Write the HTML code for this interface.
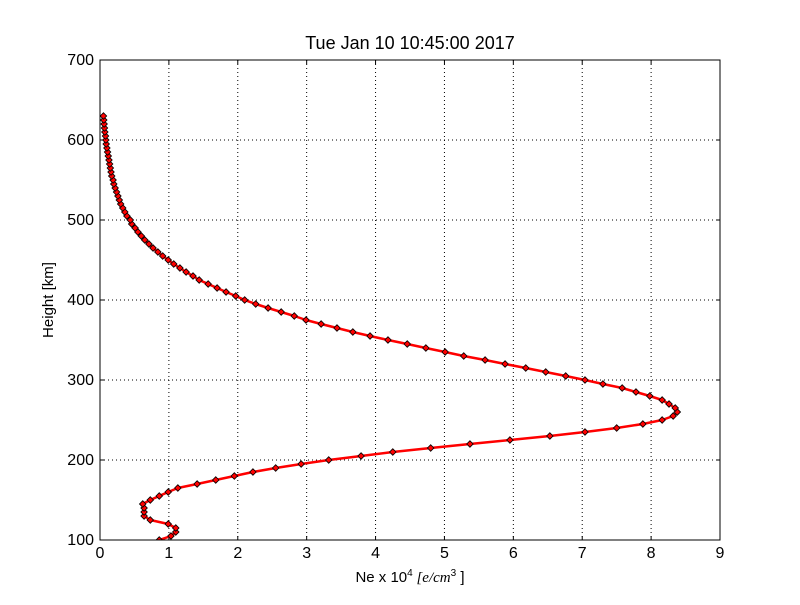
<!DOCTYPE html>
<html><head><meta charset="utf-8"><style>
body{margin:0;background:#fff;width:800px;height:600px;overflow:hidden}
svg{font-family:"Liberation Sans","DejaVu Sans",sans-serif}
</style></head><body>
<svg id="chart" width="800" height="600" viewBox="0 0 800 600">
<rect width="800" height="600" fill="#fff"/>
<text x="410" y="49" text-anchor="middle" font-size="18">Tue Jan 10 10:45:00 2017</text>
<g id="grid"></g>
<g id="ticks"></g>
<defs><clipPath id="clip"><rect x="100" y="60" width="620" height="480"/></clipPath></defs>
<g id="series" clip-path="url(#clip)"></g>
<rect x="100" y="60" width="620" height="480" fill="none" stroke="#000" stroke-width="1"/>
<text x="410" y="582" text-anchor="middle" font-size="15">Ne x 10<tspan font-size="10" dy="-6">4</tspan><tspan dy="6" font-style="italic" font-family="Liberation Serif,serif">  [e/cm</tspan><tspan font-size="10" dy="-6">3</tspan><tspan dy="6"> ]</tspan></text>
<text x="53" y="300" text-anchor="middle" font-size="15" transform="rotate(-90 53 300)">Height [km]</text>
</svg>
<script>
const heights = [95,100,105,110,115,120,125,130,135,140,145,150,155,160,165,170,175,180,185,190,195,200,205,210,215,220,225,230,235,240,245,250,255,260,265,270,275,280,285,290,295,300,305,310,315,320,325,330,335,340,345,350,355,360,365,370,375,380,385,390,395,400,405,410,415,420,425,430,435,440,445,450,455,460,465,470,475,480,485,490,495,500,505,510,515,520,525,530,535,540,545,550,555,560,565,570,575,580,585,590,595,600,605,610,615,620,625,630];
const neValues = [0.70,0.86,1.03,1.10,1.10,0.99,0.73,0.64,0.64,0.64,0.62,0.73,0.86,0.99,1.13,1.41,1.68,1.95,2.22,2.55,2.92,3.32,3.79,4.25,4.80,5.37,5.95,6.53,7.04,7.50,7.88,8.16,8.32,8.38,8.35,8.26,8.16,7.98,7.78,7.58,7.30,7.04,6.76,6.47,6.18,5.88,5.59,5.28,5.01,4.73,4.46,4.18,3.92,3.67,3.44,3.21,2.99,2.82,2.63,2.44,2.26,2.10,1.97,1.83,1.70,1.57,1.44,1.35,1.25,1.16,1.07,0.99,0.91,0.84,0.77,0.71,0.65,0.60,0.55,0.51,0.46,0.44,0.39,0.36,0.33,0.30,0.28,0.26,0.24,0.22,0.20,0.19,0.17,0.16,0.15,0.14,0.13,0.12,0.11,0.10,0.09,0.085,0.08,0.07,0.065,0.06,0.055,0.05];
const xTicks = [0,1,2,3,4,5,6,7,8,9];
const yTicks = [100,200,300,400,500,600,700];
const xMin=0,xMax=9,yMin=100,yMax=700;
const L=100,R=720,T=60,B=540;
const sx=v=>L+(v-xMin)/(xMax-xMin)*(R-L);
const sy=v=>B-(v-yMin)/(yMax-yMin)*(B-T);
const NS="http://www.w3.org/2000/svg";
const grid=document.getElementById('grid'),ticks=document.getElementById('ticks'),series=document.getElementById('series');
function mk(tag,attrs,parent){const e=document.createElementNS(NS,tag);for(const k in attrs)e.setAttribute(k,attrs[k]);parent.appendChild(e);return e;}
xTicks.forEach(t=>{
  const x=sx(t);
  const g=mk('line',{x1:x,x2:x,y1:T,y2:B,stroke:'#000','stroke-dasharray':'1,3','stroke-width':1},grid);
  
  
  const a=mk('line',{x1:x,x2:x,y1:B,y2:B-4,stroke:'#000'},ticks);
  
  
  const b=mk('line',{x1:x,x2:x,y1:T,y2:T+4,stroke:'#000'},ticks);
  
  
  const tx=mk('text',{x:x,y:B+18,'text-anchor':'middle','font-size':16},ticks);
  tx.textContent=t;
  
  
});
yTicks.forEach(t=>{
  const y=sy(t);
  const g=mk('line',{x1:L,x2:R,y1:y,y2:y,stroke:'#000','stroke-dasharray':'1,3','stroke-width':1},grid);
  
  
  const a=mk('line',{x1:L,x2:L+4,y1:y,y2:y,stroke:'#000'},ticks);
  
  
  const b=mk('line',{x1:R,x2:R-4,y1:y,y2:y,stroke:'#000'},ticks);
  
  
  const tx=mk('text',{x:L-6,y:y+5,'text-anchor':'end','font-size':16},ticks);
  tx.textContent=t;
  
  
});
const pts=heights.map((h,i)=>sx(neValues[i]).toFixed(1)+','+sy(h).toFixed(1)).join(' ');
const pl=mk('polyline',{points:pts,fill:'none',stroke:'#f00','stroke-width':2.5,'stroke-linejoin':'round'},series);


heights.forEach((h,i)=>{
  const x=sx(neValues[i]),y=sy(h);
  const m=mk('rect',{x:x-2.3,y:y-2.3,width:4.6,height:4.6,fill:'#f00',stroke:'#000','stroke-width':0.8,transform:`rotate(45 ${x} ${y})`},series);
  
  
});
</script>
</body></html>
